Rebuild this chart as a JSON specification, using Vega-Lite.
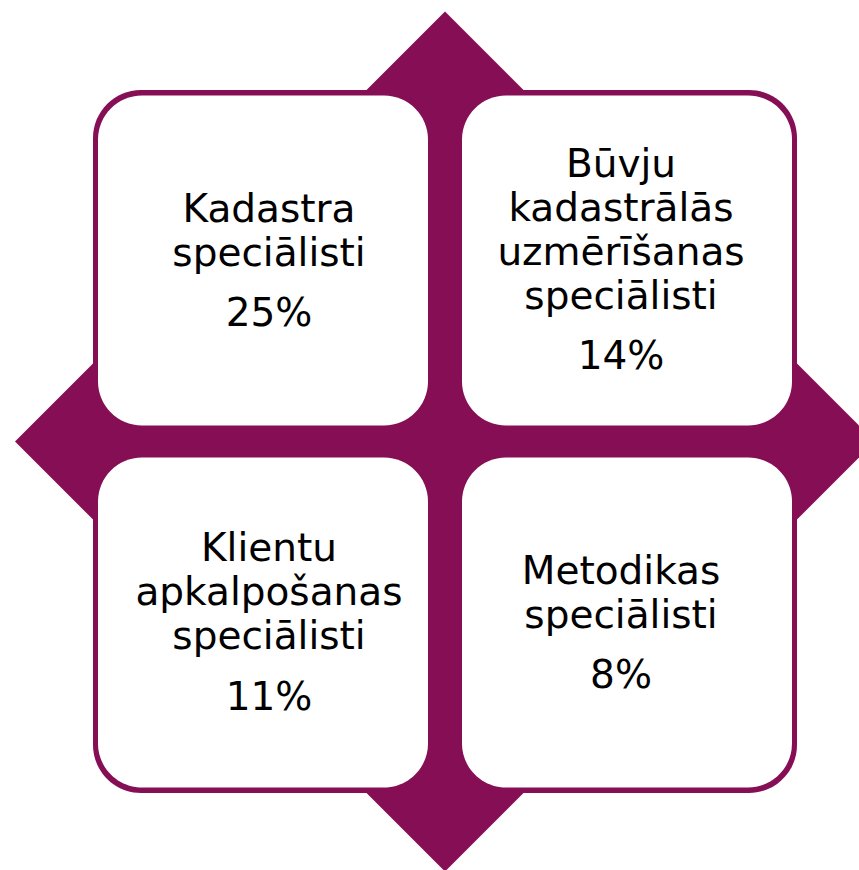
{
  "$schema": "https://vega.github.io/schema/vega-lite/v6.json",
  "width": 704,
  "height": 703,
  "autosize": {"type": "none"},
  "padding": {"left": 93, "top": 90, "right": 62, "bottom": 77},
  "background": "white",
  "config": {"view": {"stroke": null}, "text": {"font": "DejaVu Sans"}},
  "datasets": {
    "bg": [{"element": "cross diamond"}],
    "roles": [
      {"col": "left", "row": "top", "name": ["Kadastra", "speciālisti"], "share": 0.25, "nameLines": 2},
      {"col": "right", "row": "top", "name": ["Būvju", "kadastrālās", "uzmērīšanas", "speciālisti"], "share": 0.14, "nameLines": 4},
      {"col": "left", "row": "bottom", "name": ["Klientu", "apkalpošanas", "speciālisti"], "share": 0.11, "nameLines": 3},
      {"col": "right", "row": "bottom", "name": ["Metodikas", "speciālisti"], "share": 0.08, "nameLines": 2}
    ]
  },
  "layer": [
    {
      "data": {"name": "bg"},
      "mark": {"type": "point", "shape": "diamond", "size": 739600, "filled": true, "color": "#850E55", "opacity": 1, "strokeWidth": 0},
      "encoding": {}
    },
    {
      "data": {"name": "roles"},
      "mark": {"type": "rect", "color": "#850E55", "cornerRadius": 48},
      "encoding": {
        "x": {"field": "col", "type": "nominal", "axis": null, "scale": {"domain": ["left", "right"], "paddingInner": 0.0817, "paddingOuter": 0}},
        "y": {"field": "row", "type": "nominal", "axis": null, "scale": {"domain": ["top", "bottom"], "paddingInner": 0.0819, "paddingOuter": 0}}
      }
    },
    {
      "data": {"name": "roles"},
      "mark": {"type": "rect", "color": "white", "opacity": 1, "cornerRadius": 44},
      "encoding": {
        "x": {"field": "col", "type": "nominal", "axis": null, "scale": {"domain": ["left", "right"], "paddingInner": 0.0934, "paddingOuter": 0.01374}},
        "y": {"field": "row", "type": "nominal", "axis": null, "scale": {"domain": ["top", "bottom"], "paddingInner": 0.0884, "paddingOuter": 0.01519}}
      }
    },
    {
      "data": {"name": "roles"},
      "mark": {"type": "text", "fontSize": 39, "color": "black", "align": "center", "baseline": "alphabetic", "lineHeight": 44},
      "encoding": {
        "x": {"field": "col", "type": "nominal", "axis": null, "scale": {"domain": ["left", "right"], "paddingInner": 0.0934, "paddingOuter": 0.01374}},
        "y": {"field": "row", "type": "nominal", "axis": null, "scale": {"domain": ["top", "bottom"], "paddingInner": 0.0884, "paddingOuter": 0.01519}},
        "yOffset": {"field": "nameLines", "type": "quantitative", "scale": {"domain": [0, 10], "range": [171.3, -53.7]}},
        "text": {"field": "name", "type": "nominal"}
      }
    },
    {
      "data": {"name": "roles"},
      "mark": {"type": "text", "fontSize": 39, "color": "black", "align": "center", "baseline": "alphabetic"},
      "encoding": {
        "x": {"field": "col", "type": "nominal", "axis": null, "scale": {"domain": ["left", "right"], "paddingInner": 0.0934, "paddingOuter": 0.01374}},
        "y": {"field": "row", "type": "nominal", "axis": null, "scale": {"domain": ["top", "bottom"], "paddingInner": 0.0884, "paddingOuter": 0.01519}},
        "yOffset": {"field": "nameLines", "type": "quantitative", "scale": {"domain": [0, 10], "range": [188.1, 401.1]}},
        "text": {"field": "share", "type": "quantitative", "format": ".0%"}
      }
    }
  ],
  "resolve": {"scale": {"x": "independent", "y": "independent", "yOffset": "independent"}}
}
